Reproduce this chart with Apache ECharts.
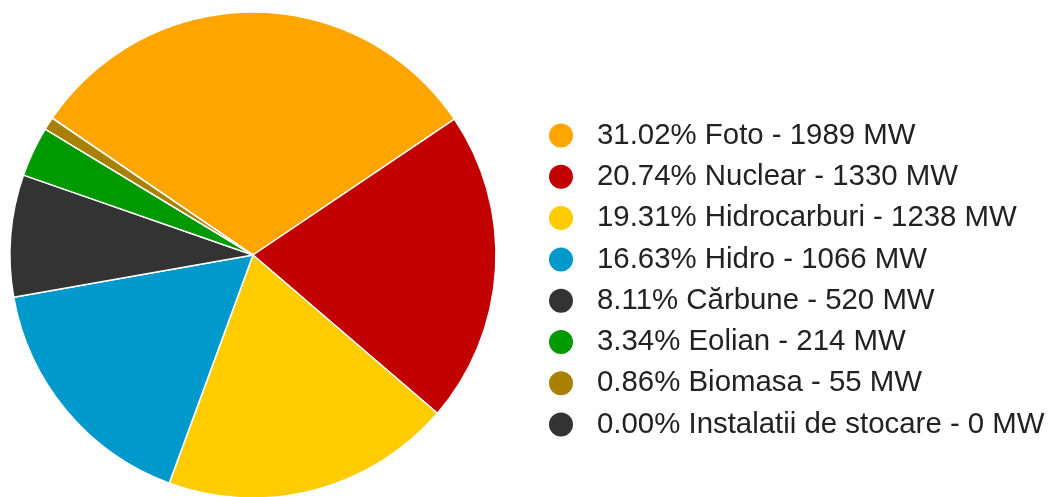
<!DOCTYPE html>
<html>
<head>
<meta charset="utf-8">
<script src="https://cdn.jsdelivr.net/npm/echarts@6/dist/echarts.min.js"></script>
<style>html,body{margin:0;padding:0;background:#fff;}#c{width:1054px;height:497px;}</style>
</head>
<body>
<div id="c"></div>
<script>
const categories = ['Foto', 'Nuclear', 'Hidrocarburi', 'Hidro', 'Cărbune', 'Eolian', 'Biomasa', 'Instalatii de stocare'];
const valuesMW = [1989, 1330, 1238, 1066, 520, 214, 55, 0];
const colors = ['#FFA500', '#C30000', '#FFCC00', '#0099CC', '#333333', '#009900', '#AA8000', '#333333'];

const total = valuesMW.reduce((a, b) => a + b, 0);
const data = categories.map((n, i) => ({ name: n, value: valuesMW[i], itemStyle: { color: colors[i] } }));

const chart = echarts.init(document.getElementById('c'), null, { renderer: 'canvas' });
chart.setOption({
  animation: false,
  legend: {
    orient: 'vertical',
    left: 542,
    top: 116,
    icon: 'circle',
    itemWidth: 26,
    itemHeight: 26,
    itemGap: 12.3,
    selectedMode: false,
    textStyle: { fontFamily: 'Liberation Sans, Arial, sans-serif', fontSize: 29.4, lineHeight: 29, color: '#222222', padding: [0, 0, 0, 18] },
    formatter: function (name) {
      const i = categories.indexOf(name);
      const pct = total ? (valuesMW[i] / total * 100) : 0;
      return pct.toFixed(2) + '% ' + name + ' - ' + valuesMW[i] + ' MW';
    },
    data: categories
  },
  series: [{
    type: 'pie',
    center: [253, 255],
    radius: [0, 243],
    startAngle: 145.7,
    clockwise: true,
    avoidLabelOverlap: false,
    label: { show: false },
    labelLine: { show: false },
    emphasis: { disabled: true },
    itemStyle: { borderColor: '#ffffff', borderWidth: 1.5 },
    data: data
  }]
});
</script>
</body>
</html>
